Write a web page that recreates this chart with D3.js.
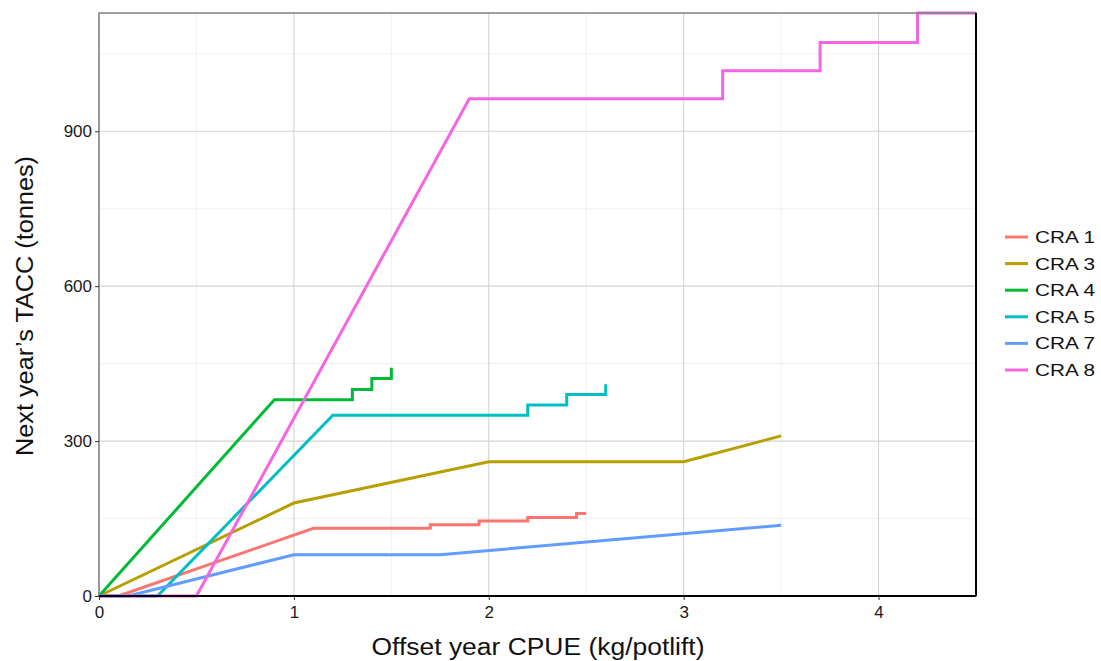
<!DOCTYPE html>
<html>
<head>
<meta charset="utf-8">
<script src="https://cdn.jsdelivr.net/npm/d3@7"></script>
<style>
  body { margin: 0; background: #fff; }
  text { font-family: "Liberation Sans", Arial, sans-serif; }
</style>
</head>
<body>
<div class="chart"></div>
<script>
// series names and colours (ggplot defaults for 6 groups)
var seriesNames = ["CRA 1", "CRA 3", "CRA 4", "CRA 5", "CRA 7", "CRA 8"];
var seriesColors = ["#F8766D", "#B79F00", "#00BA38", "#00BFC4", "#619CFF", "#F564E3"];

// [offset CPUE, next year's TACC] points
var cra1 = [[0, 0], [0.1, 0], [1.1, 131], [1.7, 131], [1.7, 138], [1.95, 138], [1.95, 145], [2.2, 145], [2.2, 152], [2.45, 152], [2.45, 160], [2.5, 160]];
var cra3 = [[0, 0], [1, 180], [2, 260], [3, 260], [3.5, 310]];
var cra4 = [[0, 0], [0.9, 380], [1.3, 380], [1.3, 400], [1.4, 400], [1.4, 421], [1.5, 421], [1.5, 442]];
var cra5 = [[0, 0], [0.3, 0], [1.2, 350], [2.2, 350], [2.2, 370], [2.4, 370], [2.4, 390], [2.6, 390], [2.6, 410]];
var cra7 = [[0, 0], [0.15, 0], [1, 80], [1.75, 80], [3.5, 137]];
var cra8 = [[0, 0], [0.5, 0], [1.9, 963], [3.2, 963], [3.2, 1017], [3.7, 1017], [3.7, 1072], [4.2, 1072], [4.2, 1129], [4.5, 1129]];

var xTicks = [0, 1, 2, 3, 4];
var yTicks = [0, 300, 600, 900];
var xMinor = [0.5, 1.5, 2.5, 3.5];
var yMinor = [150, 450, 750, 1050];

var allSeries = [cra1, cra3, cra4, cra5, cra7, cra8];

var W = 1101, H = 661;
var margin = {top: 13, right: 125, bottom: 65, left: 99};
var width = W - margin.left - margin.right,
    height = H - margin.top - margin.bottom;

var svg = d3.select(".chart")
  .append("svg")
    .attr("width", W)
    .attr("height", H);

var g = svg.append("g")
  .attr("transform", "translate(" + margin.left + "," + margin.top + ")");

var x = d3.scaleLinear().domain([0, 4.5]).range([0, width]);
var y = d3.scaleLinear().domain([0, 1129]).range([height, 0]);

// minor grid
g.selectAll(".xminor").data(xMinor).enter().append("line")
  .attr("x1", function(d) { return x(d); }).attr("x2", function(d) { return x(d); })
  .attr("y1", 0).attr("y2", height)
  .style("stroke", "#ebebeb").style("stroke-width", 0.8);
g.selectAll(".yminor").data(yMinor).enter().append("line")
  .attr("y1", function(d) { return y(d); }).attr("y2", function(d) { return y(d); })
  .attr("x1", 0).attr("x2", width)
  .style("stroke", "#ebebeb").style("stroke-width", 0.8);

// major grid
g.selectAll(".xmajor").data(xTicks).enter().append("line")
  .attr("x1", function(d) { return x(d); }).attr("x2", function(d) { return x(d); })
  .attr("y1", 0).attr("y2", height)
  .style("stroke", "#d3d3d3").style("stroke-width", 1.1);
g.selectAll(".ymajor").data(yTicks).enter().append("line")
  .attr("y1", function(d) { return y(d); }).attr("y2", function(d) { return y(d); })
  .attr("x1", 0).attr("x2", width)
  .style("stroke", "#d3d3d3").style("stroke-width", 1.1);

var line = d3.line()
  .x(function(d) { return x(d[0]); })
  .y(function(d) { return y(d[1]); });

g.selectAll(".series")
  .data(allSeries)
  .enter().append("path")
    .attr("d", line)
    .style("fill", "none")
    .style("stroke", function(d, i) { return seriesColors[i]; })
    .style("stroke-width", 3)
    .style("stroke-linejoin", "miter");

// panel border
g.append("rect")
  .attr("width", width).attr("height", height)
  .style("fill", "none").style("stroke", "#808080").style("stroke-width", 1.5);
g.append("line").attr("x1", 0).attr("x2", width).attr("y1", height).attr("y2", height)
  .style("stroke", "#000").style("stroke-width", 2);
g.append("line").attr("x1", width).attr("x2", width).attr("y1", 0).attr("y2", height)
  .style("stroke", "#000").style("stroke-width", 2);

// axes
var xAxis = g.append("g")
  .attr("transform", "translate(0," + height + ")")
  .call(d3.axisBottom(x).tickValues(xTicks).tickFormat(d3.format("d")).tickSize(4).tickPadding(6));
var yAxis = g.append("g")
  .call(d3.axisLeft(y).tickValues(yTicks).tickFormat(d3.format("d")).tickSize(4).tickPadding(3));
[xAxis, yAxis].forEach(function(a) {
  a.select(".domain").remove();
  a.selectAll("line").style("stroke", "#333");
  a.selectAll("text").style("font-size", "17px").style("fill", "#1a1a1a")
    .style("font-family", "Liberation Sans, Arial, sans-serif");
});

// axis titles
svg.append("text")
  .attr("x", 538).attr("y", 655)
  .attr("text-anchor", "middle")
  .attr("textLength", 333).attr("lengthAdjust", "spacingAndGlyphs")
  .style("font-size", "23px").style("fill", "#111")
  .text("Offset year CPUE (kg/potlift)");
svg.append("text")
  .attr("transform", "translate(33,306) rotate(-90)")
  .attr("text-anchor", "middle")
  .attr("textLength", 300).attr("lengthAdjust", "spacingAndGlyphs")
  .style("font-size", "23px").style("fill", "#111")
  .text("Next year\u2019s TACC (tonnes)");

// legend
var legend = svg.append("g").attr("transform", "translate(1005,237)");
var items = legend.selectAll(".item").data(seriesNames).enter().append("g")
  .attr("transform", function(d, i) { return "translate(0," + (i * 26.6) + ")"; });
items.append("line")
  .attr("x1", 0).attr("x2", 23).attr("y1", 0).attr("y2", 0)
  .style("stroke", function(d, i) { return seriesColors[i]; })
  .style("stroke-width", 3);
items.append("text")
  .attr("x", 30).attr("y", 6)
  .attr("textLength", 60).attr("lengthAdjust", "spacingAndGlyphs")
  .style("font-size", "17px").style("fill", "#111")
  .text(function(d) { return d; });
</script>
</body>
</html>
